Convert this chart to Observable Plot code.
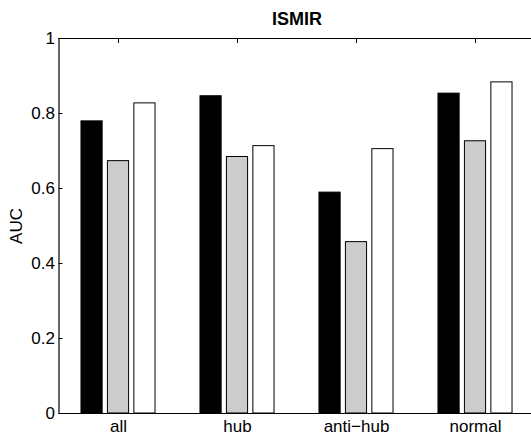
<!DOCTYPE html>
<html><head><meta charset="utf-8">
<script src="https://cdn.jsdelivr.net/npm/d3@7"></script>
<script src="https://cdn.jsdelivr.net/npm/@observablehq/plot@0.6"></script>
<style>body{margin:0;background:#fff;overflow:hidden}</style>
</head><body><div id="chart"></div>
<script>
const categories = ["all", "hub", "anti\u2212hub", "normal"];
const seriesFill = ["#000000", "#cccccc", "#ffffff"];
const values1 = [0.779, 0.846, 0.589, 0.853];
const values2 = [0.673, 0.684, 0.457, 0.726];
const values3 = [0.827, 0.713, 0.705, 0.883];
const yTicks = [0, 0.2, 0.4, 0.6, 0.8, 1];
const yTickLabels = ["0", "0.2", "0.4", "0.6", "0.8", "1"];
const titleText = "ISMIR";
const yLabel = "AUC";

const seriesValues = [values1, values2, values3];
const groupOffset = 2 / 9;      // MATLAB grouped bar spacing
const halfBar = 0.8 * groupOffset / 2;
const rows = [];
seriesValues.forEach((vals, s) => vals.forEach((v, i) => {
  const pos = i + 1 + (s - 1) * groupOffset;
  rows.push({pos, value: v, s});
}));
const catPos = categories.map((c, i) => i + 1);
const font = "'Liberation Sans', Arial, sans-serif";

const chart = Plot.plot({
  width: 531,
  height: 437,
  marginLeft: 58.5,
  marginRight: -3.5,
  marginTop: 38,
  marginBottom: 24,
  style: {fontFamily: font, fontSize: "17px", background: "#fff", color: "#000"},
  x: {domain: [0.5, 4.5]},
  y: {domain: [0, 1]},
  marks: [
    Plot.axisX({anchor: "bottom", ticks: catPos, tickSize: -4, tickFormat: () => "", label: null, stroke: "#000"}),
    Plot.axisX({anchor: "top", ticks: catPos, tickSize: -4, tickFormat: () => "", label: null, stroke: "#000"}),
    Plot.axisY({anchor: "right", ticks: yTicks, tickSize: -4, tickFormat: () => "", label: null, stroke: "#000"}),
    Plot.rectY(rows, {
      x1: d => d.pos - halfBar, x2: d => d.pos + halfBar, y1: 0, y2: "value",
      fill: d => seriesFill[d.s], stroke: "#000", strokeWidth: 1
    }),
    Plot.axisY({anchor: "left", ticks: yTicks, tickSize: -4, tickFormat: () => "", label: null, stroke: "#000"}),
    Plot.axisY({anchor: "left", ticks: yTicks, tickSize: 0, tickPadding: 4,
      tickFormat: (d, i) => yTickLabels[i], label: null, fill: "#000", fontSize: 17}),
    Plot.axisX({anchor: "bottom", ticks: catPos, tickSize: 0, tickPadding: 6,
      tickFormat: (d, i) => categories[i], label: null, fill: "#000", fontSize: 17}),
    Plot.ruleY([0, 1], {stroke: "#000", strokeWidth: 1.2}),
    Plot.ruleX([0.5], {stroke: "#000", strokeWidth: 1.2}),
    Plot.text([titleText], {x: 2.5, frameAnchor: "top", dy: -14, lineAnchor: "bottom",
      fontWeight: "bold", fontSize: 18, fill: "#000"}),
    Plot.text([yLabel], {y: 0.5, frameAnchor: "left", dx: -42, rotate: -90,
      textAnchor: "middle", lineAnchor: "middle", fontSize: 17, fill: "#000"})
  ]
});
document.getElementById("chart").appendChild(chart);
</script>
</body></html>
